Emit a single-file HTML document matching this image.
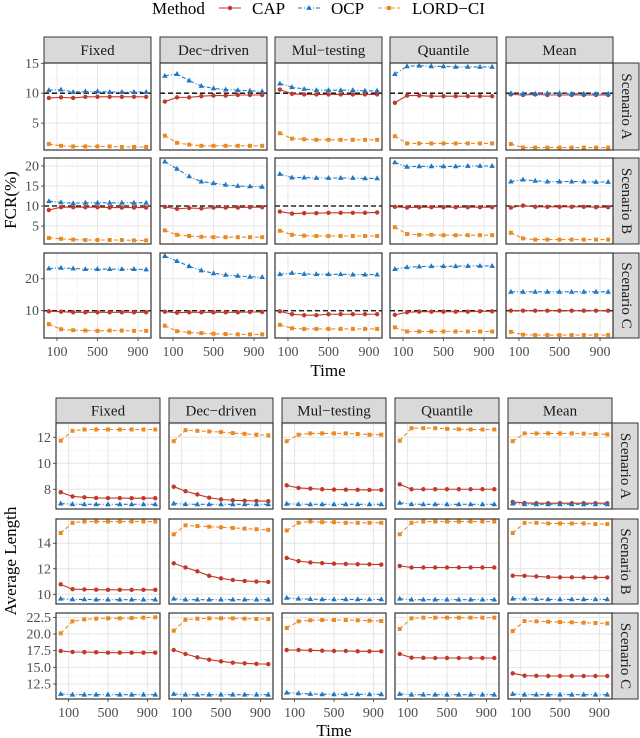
<!DOCTYPE html>
<html><head><meta charset="utf-8"><style>
html,body{margin:0;padding:0;background:#fff;}
svg{display:block;font-family:"Liberation Serif",serif;}
</style></head><body>
<svg id="chart" width="640" height="738" xmlns="http://www.w3.org/2000/svg"></svg>
<script>
const methods = ["CAP","OCP","LORD-CI"];
const columns = ["Fixed","Dec\u2212driven","Mul\u2212testing","Quantile","Mean"];
const scenarios = ["Scenario A","Scenario B","Scenario C"];
const times = [20,140,260,380,500,620,740,860,980];
const xTicks = [100,500,900];
const fcrTicksA=[5,10,15], fcrTicksB=[5,10,15,20], fcrTicksC=[10,20];
const lenTicksA=[8,10,12], lenTicksB=[10,12,14], lenTicksC=[12.5,15.0,17.5,20.0,22.5];

const fcrA_CAP=[[9.2,9.3,9.2,9.4,9.4,9.4,9.4,9.4,9.4],[8.6,9.3,9.3,9.5,9.6,9.6,9.7,9.7,9.7],[10.6,9.9,9.8,9.8,9.8,9.8,9.8,9.8,9.8],[8.4,9.6,9.6,9.5,9.5,9.5,9.5,9.5,9.5],[9.8,9.7,9.8,9.7,9.7,9.7,9.7,9.7,9.7]];
const fcrA_OCP=[[10.5,10.6,10.2,10.3,10.3,10.2,10.2,10.2,10.2],[12.9,13.2,12.1,11.2,10.8,10.6,10.5,10.4,10.3],[11.6,11.0,10.7,10.5,10.5,10.5,10.5,10.4,10.4],[13.2,14.5,14.6,14.5,14.5,14.4,14.4,14.4,14.4],[10.0,9.9,9.9,10.0,10.0,9.9,9.9,9.9,9.9]];
const fcrA_LORD=[[1.5,1.2,1.1,1.1,1.1,1.1,1.0,1.0,1.0],[2.9,1.7,1.4,1.2,1.2,1.2,1.2,1.2,1.2],[3.3,2.4,2.3,2.2,2.2,2.2,2.2,2.2,2.2],[2.8,1.6,1.6,1.6,1.6,1.6,1.6,1.6,1.6],[1.5,0.9,0.9,0.9,0.9,0.9,0.9,0.9,0.9]];
const fcrB_CAP=[[9.0,9.7,9.7,9.7,9.7,9.6,9.6,9.6,9.6],[9.8,9.3,9.5,9.4,9.6,9.6,9.6,9.7,9.7],[8.6,8.1,8.2,8.2,8.3,8.3,8.3,8.3,8.4],[9.8,9.6,9.7,9.7,9.7,9.7,9.7,9.7,9.7],[9.6,10.1,9.8,9.8,9.8,9.8,9.8,9.7,9.7]];
const fcrB_OCP=[[11.2,10.9,10.7,10.8,10.8,10.8,10.8,10.8,10.8],[21.1,19.3,17.4,16.1,15.7,15.3,15.0,14.9,14.8],[18.0,17.1,17.1,17.0,17.0,17.0,17.0,16.9,16.9],[20.9,19.8,19.9,19.9,19.9,19.9,20.0,20.0,20.0],[16.1,16.6,16.3,16.1,16.1,16.1,16.1,16.0,16.0]];
const fcrB_LORD=[[2.0,1.8,1.6,1.5,1.5,1.5,1.5,1.4,1.4],[3.9,2.8,2.5,2.3,2.2,2.2,2.2,2.2,2.2],[3.8,2.8,2.6,2.5,2.5,2.5,2.5,2.5,2.5],[4.7,3.0,2.8,2.8,2.7,2.7,2.7,2.7,2.7],[3.3,1.9,1.6,1.6,1.6,1.6,1.6,1.6,1.6]];
const fcrC_CAP=[[9.8,9.7,9.5,9.5,9.5,9.5,9.5,9.5,9.5],[9.7,9.4,9.5,9.5,9.5,9.5,9.5,9.6,9.6],[9.8,8.9,8.6,8.6,8.9,8.9,8.9,8.9,8.9],[8.7,9.5,9.7,9.7,9.7,9.7,9.7,9.8,9.8],[10.0,10.0,10.0,10.0,10.0,10.0,10.0,10.0,10.0]];
const fcrC_OCP=[[23.2,23.4,23.2,23.0,23.0,23.0,23.0,23.0,22.9],[27.1,25.5,23.9,22.6,21.7,21.2,20.9,20.6,20.5],[21.4,21.8,21.5,21.4,21.4,21.4,21.3,21.3,21.3],[23.0,23.6,23.8,23.9,23.9,23.9,24.0,24.0,24.0],[15.9,15.9,15.9,15.9,15.9,15.9,15.9,15.9,15.9]];
const fcrC_LORD=[[5.8,4.2,3.9,3.8,3.7,3.8,3.8,3.7,3.7],[5.3,3.6,3.2,3.0,2.8,2.7,2.6,2.6,2.6],[5.6,4.5,4.3,4.3,4.3,4.3,4.3,4.3,4.3],[4.8,3.5,3.5,3.5,3.5,3.5,3.5,3.5,3.5],[3.4,2.5,2.4,2.4,2.4,2.4,2.4,2.4,2.4]];

const lenA_CAP=[[7.77,7.45,7.38,7.33,7.32,7.32,7.31,7.31,7.31],[8.2,7.85,7.6,7.35,7.22,7.15,7.12,7.1,7.08],[8.3,8.1,8.05,8.0,7.98,7.97,7.96,7.95,7.95],[8.38,8.0,8.0,8.0,8.0,8.0,8.0,8.0,8.0],[7.02,6.95,6.93,6.93,6.93,6.93,6.93,6.93,6.93]];
const lenA_OCP=[[6.9,6.85,6.84,6.84,6.84,6.84,6.84,6.84,6.84],[6.9,6.85,6.84,6.84,6.84,6.84,6.84,6.84,6.84],[6.88,6.85,6.84,6.84,6.84,6.84,6.84,6.84,6.84],[6.95,6.85,6.84,6.84,6.84,6.84,6.84,6.84,6.84],[6.9,6.85,6.84,6.84,6.84,6.84,6.84,6.84,6.84]];
const lenA_LORD=[[11.74,12.5,12.6,12.6,12.6,12.6,12.6,12.6,12.6],[11.7,12.55,12.5,12.45,12.4,12.32,12.27,12.2,12.15],[11.7,12.2,12.3,12.3,12.3,12.3,12.25,12.2,12.2],[11.74,12.7,12.7,12.7,12.65,12.62,12.6,12.6,12.6],[11.7,12.3,12.3,12.3,12.3,12.3,12.28,12.25,12.22]];
const lenB_CAP=[[10.78,10.4,10.38,10.36,10.35,10.35,10.35,10.35,10.35],[12.43,12.1,11.8,11.45,11.25,11.12,11.05,11.0,10.97],[12.85,12.6,12.5,12.45,12.4,12.38,12.36,12.35,12.33],[12.22,12.1,12.1,12.1,12.1,12.1,12.1,12.1,12.1],[11.46,11.45,11.4,11.35,11.33,11.33,11.32,11.32,11.32]];
const lenB_OCP=[[9.65,9.6,9.6,9.58,9.58,9.58,9.58,9.58,9.58],[9.65,9.58,9.58,9.58,9.58,9.58,9.58,9.58,9.58],[9.72,9.65,9.62,9.6,9.6,9.6,9.6,9.6,9.6],[9.65,9.58,9.58,9.58,9.58,9.58,9.58,9.58,9.58],[9.65,9.65,9.62,9.6,9.6,9.6,9.6,9.6,9.6]];
const lenB_LORD=[[14.8,15.6,15.7,15.7,15.7,15.7,15.7,15.7,15.7],[14.7,15.4,15.35,15.3,15.25,15.2,15.15,15.1,15.05],[15.0,15.6,15.7,15.65,15.65,15.6,15.6,15.6,15.6],[14.7,15.6,15.7,15.7,15.7,15.7,15.7,15.7,15.7],[14.8,15.6,15.6,15.55,15.55,15.55,15.55,15.5,15.5]];
const lenC_CAP=[[17.45,17.3,17.28,17.25,17.2,17.2,17.2,17.2,17.2],[17.6,17.0,16.5,16.15,15.9,15.7,15.6,15.52,15.48],[17.6,17.6,17.55,17.5,17.45,17.45,17.4,17.4,17.4],[17.0,16.45,16.42,16.4,16.4,16.4,16.4,16.4,16.4],[14.1,13.75,13.72,13.7,13.7,13.7,13.7,13.7,13.7]];
const lenC_OCP=[[11.0,10.9,10.9,10.9,10.9,10.9,10.9,10.9,10.9],[11.0,10.9,10.9,10.9,10.9,10.9,10.9,10.9,10.9],[11.2,11.1,11.0,10.95,10.95,10.95,10.95,10.95,10.95],[11.0,10.9,10.9,10.9,10.9,10.9,10.9,10.9,10.9],[11.0,10.9,10.9,10.9,10.9,10.9,10.9,10.9,10.9]];
const lenC_LORD=[[20.1,21.9,22.2,22.3,22.35,22.35,22.4,22.45,22.5],[20.5,22.15,22.3,22.35,22.35,22.35,22.3,22.25,22.25],[20.9,21.9,22.05,22.1,22.1,22.1,22.05,22.0,21.95],[20.75,22.35,22.45,22.45,22.45,22.45,22.45,22.45,22.45],[20.45,21.95,21.9,21.85,21.8,21.75,21.7,21.65,21.6]];

const NS="http://www.w3.org/2000/svg";
const svg=document.getElementById('chart');
function mk(tag,attrs,parent){const e=document.createElementNS(NS,tag);for(const k in attrs)e.setAttribute(k,attrs[k]);(parent||svg).appendChild(e);return e;}
const COL={"CAP":"#c0392b","OCP":"#1f77c4","LORD-CI":"#ea8a24"};
const DASH={"CAP":"","OCP":"4,2,1,2","LORD-CI":"4,2.5"};
const XD=[-28,1028];

function marker(g,m,x,y){
  let e;
  if(m==="CAP"){e=mk('circle',{cx:x,cy:y,r:2.2,fill:COL[m]},g);}
  else if(m==="OCP"){e=mk('polygon',{points:`${x},${y-3} ${x-2.8},${y+1.9} ${x+2.8},${y+1.9}`,fill:COL[m]},g);}
  else {e=mk('rect',{x:x-2,y:y-2,width:4,height:4,fill:COL[m]},g);}
  
  
}

function grid(cfg){
  const {colX,panW,rows,stripY,stripH,tickX,rightX,data,hline,name}=cfg;
  const root=mk('g',{});
  
  
  colX.forEach((cx,ci)=>{
    const s=mk('g',{},root);
    
    
    mk('rect',{x:cx,y:stripY,width:panW,height:stripH,fill:'#d9d9d9',stroke:'#333','stroke-width':1},s);
    const t=mk('text',{x:cx+panW/2,y:stripY+stripH/2+5,'text-anchor':'middle','font-size':15,fill:'#1a1a1a'},s);
    t.textContent=columns[ci];
  });
  rows.forEach((r,ri)=>{
    const [d0,d1]=r.domain;
    const ys=v=>r.y1-(v-d0)/(d1-d0)*(r.y1-r.y0);
    const rs=mk('g',{},root);
    
    
    mk('rect',{x:rightX,y:r.y0,width:26,height:r.y1-r.y0,fill:'#d9d9d9',stroke:'#333','stroke-width':1},rs);
    const cy=(r.y0+r.y1)/2, cxs=rightX+13;
    const rt=mk('text',{x:cxs,y:cy,'text-anchor':'middle','dominant-baseline':'central','font-size':15,fill:'#1a1a1a',transform:`rotate(90 ${cxs} ${cy})`},rs);
    rt.textContent=scenarios[ri];
    r.ticks.forEach(tv=>{
      const y=ys(tv);
      mk('line',{x1:colX[0]-3,x2:colX[0],y1:y,y2:y,stroke:'#333','stroke-width':0.8},root);
      const tl=mk('text',{x:tickX,y:y+4.5,'text-anchor':'end','font-size':14,fill:'#4d4d4d'},root);
      
      
      tl.textContent=r.fmt?tv.toFixed(1):String(tv);
    });
    colX.forEach((cx,ci)=>{
      const xs=t=>cx+(t-XD[0])/(XD[1]-XD[0])*panW;
      const p=mk('g',{},root);
      
      
      mk('rect',{x:cx,y:r.y0,width:panW,height:r.y1-r.y0,fill:'#fff'},p);
      const tk=r.ticks, step=tk[1]-tk[0];
      for(let v=tk[0]-step/2; v<=d1; v+=step){ if(v>=d0){const y=ys(v);mk('line',{x1:cx,x2:cx+panW,y1:y,y2:y,stroke:'#f2f2f2','stroke-width':0.6},p);} }
      [300,700].forEach(t=>mk('line',{x1:xs(t),x2:xs(t),y1:r.y0,y2:r.y1,stroke:'#f2f2f2','stroke-width':0.6},p));
      tk.forEach(v=>{const y=ys(v);mk('line',{x1:cx,x2:cx+panW,y1:y,y2:y,stroke:'#e6e6e6','stroke-width':1},p);});
      xTicks.forEach(t=>mk('line',{x1:xs(t),x2:xs(t),y1:r.y0,y2:r.y1,stroke:'#e6e6e6','stroke-width':1},p));
      if(hline!==undefined){mk('line',{x1:cx,x2:cx+panW,y1:ys(hline),y2:ys(hline),stroke:'#000','stroke-width':1.3,'stroke-dasharray':'5,3'},p);}
      methods.forEach(m=>{
        const vals=data[ri][m][ci];
        const pts=times.map((t,i)=>`${xs(t).toFixed(2)},${ys(vals[i]).toFixed(2)}`).join(' ');
        const ln=mk('polyline',{points:pts,fill:'none',stroke:COL[m],'stroke-width':1.1,'stroke-dasharray':DASH[m]},p);
        
        
        times.forEach((t,i)=>marker(p,m,xs(t),ys(vals[i])));
      });
      mk('rect',{x:cx,y:r.y0,width:panW,height:r.y1-r.y0,fill:'none',stroke:'#333','stroke-width':1.2},p);
      if(ri===rows.length-1){
        xTicks.forEach(t=>{
          mk('line',{x1:xs(t),x2:xs(t),y1:r.y1,y2:r.y1+3,stroke:'#333','stroke-width':0.8},root);
          const xl=mk('text',{x:xs(t),y:r.y1+18,'text-anchor':'middle','font-size':14,fill:'#4d4d4d'},root);
          
          
          xl.textContent=String(t);
        });
      }
    });
  });
}

grid({name:'fcr-chart',colX:[44,160,275,390,506],panW:107,stripY:37,stripH:26,tickX:39,rightX:613,hline:10,
  rows:[{y0:63,y1:150,domain:[0.5,15.05],ticks:fcrTicksA},{y0:158,y1:244,domain:[0.5,22],ticks:fcrTicksB},{y0:253,y1:338,domain:[1.47,28.05],ticks:fcrTicksC}],
  data:[{"CAP":fcrA_CAP,"OCP":fcrA_OCP,"LORD-CI":fcrA_LORD},{"CAP":fcrB_CAP,"OCP":fcrB_OCP,"LORD-CI":fcrB_LORD},{"CAP":fcrC_CAP,"OCP":fcrC_OCP,"LORD-CI":fcrC_LORD}]});
grid({name:'length-chart',colX:[56,169,282,395,508],panW:104,stripY:398,stripH:25,tickX:51,rightX:612,
  rows:[{y0:423,y1:509,domain:[6.48,13.1],ticks:lenTicksA},{y0:519,y1:604,domain:[9.24,15.9],ticks:lenTicksB},{y0:613,y1:699,domain:[10.25,23.15],ticks:lenTicksC,fmt:true}],
  data:[{"CAP":lenA_CAP,"OCP":lenA_OCP,"LORD-CI":lenA_LORD},{"CAP":lenB_CAP,"OCP":lenB_OCP,"LORD-CI":lenB_LORD},{"CAP":lenC_CAP,"OCP":lenC_OCP,"LORD-CI":lenC_LORD}]});

let t;
t=mk('text',{x:328,y:376,'text-anchor':'middle','font-size':17,fill:'#000'});t.textContent='Time';


t=mk('text',{x:334,y:736,'text-anchor':'middle','font-size':17,fill:'#000'});t.textContent='Time';


t=mk('text',{x:16,y:200,'text-anchor':'middle','font-size':17,fill:'#000',transform:'rotate(-90 16 200)'});t.textContent='FCR(%)';


t=mk('text',{x:16,y:561,'text-anchor':'middle','font-size':17,fill:'#000',transform:'rotate(-90 16 561)'});t.textContent='Average Length';



const lg=mk('g',{});


t=mk('text',{x:152,y:14,'font-size':17,fill:'#000'},lg);t.textContent='Method';
const lx=[219,298,378], tx=[252,331,412];
methods.forEach((m,i)=>{
  const e=mk('g',{},lg);
  
  
  mk('line',{x1:lx[i],x2:lx[i]+22,y1:8,y2:8,stroke:COL[m],'stroke-width':1.1,'stroke-dasharray':DASH[m]},e);
  marker(e,m,lx[i]+11,8);
  const tt=mk('text',{x:tx[i],y:14,'font-size':17,fill:'#000'},e);tt.textContent=m.replace('-','\u2212');
});
</script>
</body></html>
